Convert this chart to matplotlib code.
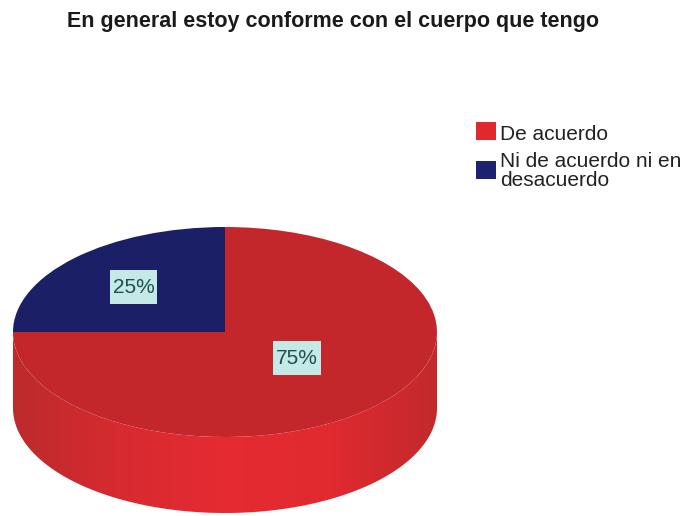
import numpy as np
import matplotlib
matplotlib.use("Agg")
import matplotlib.pyplot as plt
from matplotlib.colors import LinearSegmentedColormap
from matplotlib.legend_handler import HandlerPatch
from matplotlib.patches import Patch, PathPatch
from matplotlib.path import Path

title = "En general estoy conforme con el cuerpo que tengo"
categories = ["De acuerdo", "Ni de acuerdo ni en\ndesacuerdo"]
values = [75, 25]
top_colors = ["#c3272c", "#1b1f66"]
legend_colors = ["#e0282f", "#1d2170"]
wall_colors = ["#bd2a2d", "#d62a30", "#e62b32", "#e02a30", "#c2292c"]
label_spots = [(0.34, -0.25), (-0.43, 0.425)]

W, H = 686, 516
plt.rcParams["font.family"] = ["Liberation Sans", "DejaVu Sans"]


def tall_box(x0, y0, width, height, mutation_size):
    # label background, more padding above and below the digits
    px = 0.13 * mutation_size
    py = 0.36 * mutation_size
    return Path.unit_rectangle().transformed(
        matplotlib.transforms.Affine2D()
        .scale(width + 2 * px, height + 2 * py)
        .translate(x0 - px, y0 - py))


fig = plt.figure(figsize=(W / 100, H / 100), dpi=100)

# axes box holds the squashed top face plus the wall below it
left, right, top, bottom, base = 13, 437, 227, 437, 513
depth = (base - bottom) / ((bottom - top) / 2)
ax = fig.add_axes([left / W, 1 - base / H, (right - left) / W, (base - top) / H])

# side wall, horizontal gradient clipped to the lower half band
theta = np.linspace(np.pi, 2 * np.pi, 200)
xs = np.cos(theta)
ys = np.sin(theta)
verts = np.vstack([np.column_stack([xs, ys]),
                   np.column_stack([xs[::-1], ys[::-1] - depth])])
verts = np.vstack([verts, verts[:1]])
codes = [Path.MOVETO] + [Path.LINETO] * (len(verts) - 2) + [Path.CLOSEPOLY]
wall = PathPatch(Path(verts, codes), facecolor="none", edgecolor="none")
ax.add_patch(wall)
cmap = LinearSegmentedColormap.from_list("wall", wall_colors)
im = ax.imshow(np.linspace(0, 1, 256)[None, :], cmap=cmap, aspect="auto",
               extent=[-1, 1, -1 - depth, 0], zorder=1)
im.set_clip_path(wall)

# top face
wedges, _ = ax.pie(values, colors=top_colors, startangle=90, counterclock=False,
                   radius=1, center=(0, 0), frame=False)
for w in wedges:
    w.set_zorder(2)

ax.set_aspect("auto")
ax.set_xlim(-1, 1)
ax.set_ylim(-1 - depth, 1)
ax.axis("off")

for v, (x, y) in zip(values, label_spots):
    ax.text(x, y, f"{v}%", ha="center", va="center", fontsize=15, color="#1f4f4c",
            zorder=3, bbox=dict(boxstyle=tall_box, facecolor="#c4e9e6", edgecolor="none"))

fig.text(333 / W, 1 - 21 / H, title, ha="center", va="center",
         fontsize=15.5, fontweight="bold", color="#1a1a1a")

handles = [Patch(facecolor=c, edgecolor="none") for c in legend_colors]
leg = fig.legend(handles, categories, loc="upper left",
                 bbox_to_anchor=(476 / W, 1 - 122 / H),
                 frameon=False, fontsize=15, handlelength=0.95, handleheight=1.25,
                 handletextpad=0.2, labelspacing=0.4, labelcolor="#222222",
                 borderpad=0, borderaxespad=0,
                 handler_map={Patch: HandlerPatch(ypad=0.2)})
for t in leg.get_texts():
    t.set_linespacing(1.0)

fig.savefig("out.png", dpi=100)
